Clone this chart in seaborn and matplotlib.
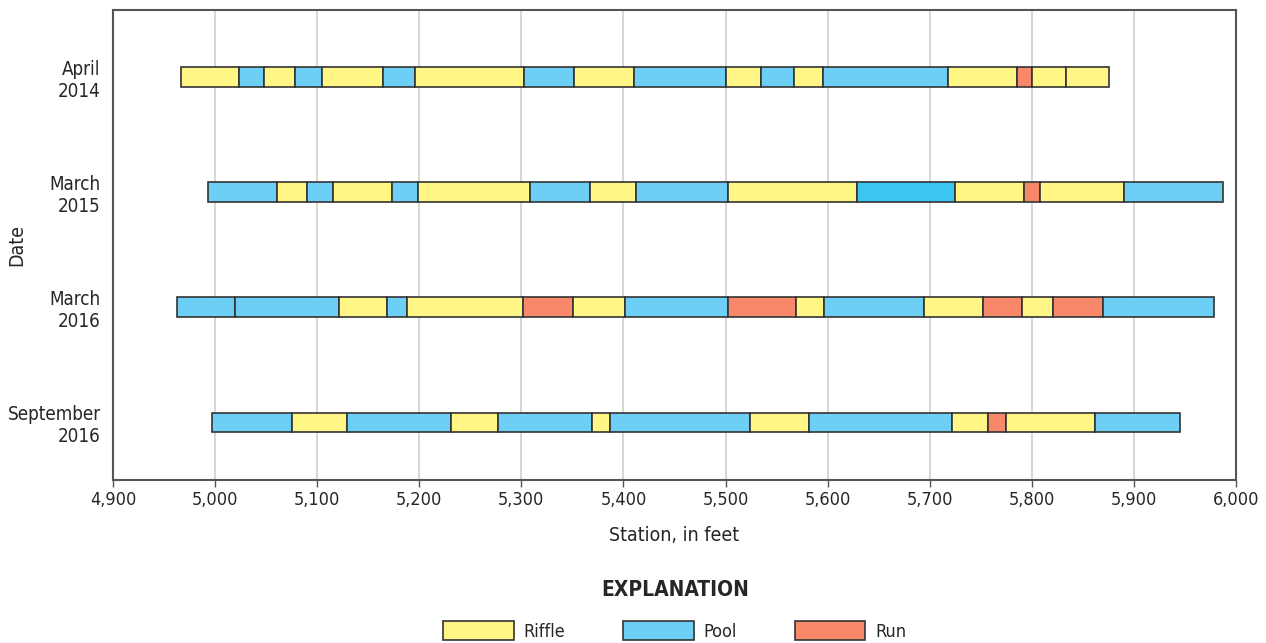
import matplotlib
matplotlib.use("Agg")
import matplotlib.pyplot as plt
import matplotlib.patches as mpatches
import seaborn as sns
import pandas as pd

# survey dates (top to bottom)
dates = ["April\n2014", "March\n2015", "March\n2016", "September\n2016"]

# segment boundaries (station, ft) and habitat type of each segment
apr14_bounds = [4967, 5023, 5048, 5078, 5105, 5164, 5196, 5303, 5352, 5410,
                5500, 5535, 5567, 5595, 5718, 5785, 5800, 5833, 5876]
apr14_types = ["Riffle", "Pool", "Riffle", "Pool", "Riffle", "Pool", "Riffle",
               "Pool", "Riffle", "Pool", "Riffle", "Pool", "Riffle", "Pool",
               "Riffle", "Run", "Riffle", "Riffle"]

mar15_bounds = [4993, 5061, 5090, 5115, 5173, 5199, 5308, 5367, 5412, 5502,
                5629, 5725, 5792, 5808, 5890, 5987]
mar15_types = ["Pool", "Riffle", "Pool", "Riffle", "Pool", "Riffle", "Pool",
               "Riffle", "Pool", "Riffle", "Pool2", "Riffle", "Run", "Riffle",
               "Pool"]

mar16_bounds = [4963, 5019, 5121, 5168, 5188, 5302, 5351, 5401, 5502, 5569,
                5596, 5694, 5752, 5790, 5821, 5870, 5978]
mar16_types = ["Pool", "Pool", "Riffle", "Pool", "Riffle", "Run", "Riffle",
               "Pool", "Run", "Riffle", "Pool", "Riffle", "Run", "Riffle",
               "Run", "Pool"]

sep16_bounds = [4997, 5075, 5129, 5231, 5277, 5369, 5387, 5524, 5582, 5722,
                5757, 5775, 5862, 5945]
sep16_types = ["Pool", "Riffle", "Pool", "Riffle", "Pool", "Riffle", "Pool",
               "Riffle", "Pool", "Riffle", "Run", "Riffle", "Pool"]

legend_labels = ["Riffle", "Pool", "Run"]
colors = {"Riffle": "#FFF685", "Pool": "#6DCFF6", "Pool2": "#3EC6F2",
          "Run": "#F7886A"}

rows = []
for i, (b, t) in enumerate([(apr14_bounds, apr14_types),
                            (mar15_bounds, mar15_types),
                            (mar16_bounds, mar16_types),
                            (sep16_bounds, sep16_types)]):
    for k, typ in enumerate(t):
        rows.append({"date": i, "start": b[k], "end": b[k + 1], "type": typ})
df = pd.DataFrame(rows)

sns.set_theme(style="white")
plt.rcParams["font.family"] = ["DejaVu Sans"]
plt.rcParams["font.stretch"] = "condensed"

fig = plt.figure(figsize=(12.66, 6.43), dpi=100)
ax = fig.add_axes([0.0893, 0.2535, 0.887, 0.731])

ax.barh(df["date"], df["end"] - df["start"], left=df["start"], height=0.17,
        color=[colors[t] for t in df["type"]], edgecolor="#333333",
        linewidth=1.2, zorder=3)

ax.set_xlim(4900, 6000)
ax.set_ylim(3.5, -0.58)
ax.set_xticks(range(4900, 6001, 100))
ax.set_xticklabels([f"{v:,}" for v in range(4900, 6001, 100)], fontsize=13)
ax.set_yticks(range(len(dates)))
ax.set_yticklabels(dates, fontsize=13.5)
ax.tick_params(axis="x", length=5, width=1, color="#555555", direction="out",
               bottom=True, pad=3)
ax.tick_params(axis="y", length=0, pad=9)
ax.grid(axis="x", color="#d0d0d0", linewidth=1.2, zorder=0)
for s in ax.spines.values():
    s.set_color("#555555")
    s.set_linewidth(1.5)

ax.set_xlabel("Station, in feet", fontsize=14, labelpad=12)
ax.set_ylabel("Date", fontsize=14)
ax.yaxis.set_label_coords(-0.077, 0.5)

fig.text(0.533, 1 - 590 / 643, "EXPLANATION", ha="center", va="center",
         fontsize=15, fontweight="bold")
handles = [mpatches.Patch(facecolor=colors[l], edgecolor="#333333",
                          linewidth=1.2, label=l) for l in legend_labels]
fig.legend(handles=handles, loc="center", ncol=3, frameon=False,
           bbox_to_anchor=(0.533, 1 - 631 / 643), fontsize=13,
           handlelength=3.9, handleheight=1.25, handletextpad=0.55,
           columnspacing=3.2)

fig.savefig("out.png", dpi=100)
